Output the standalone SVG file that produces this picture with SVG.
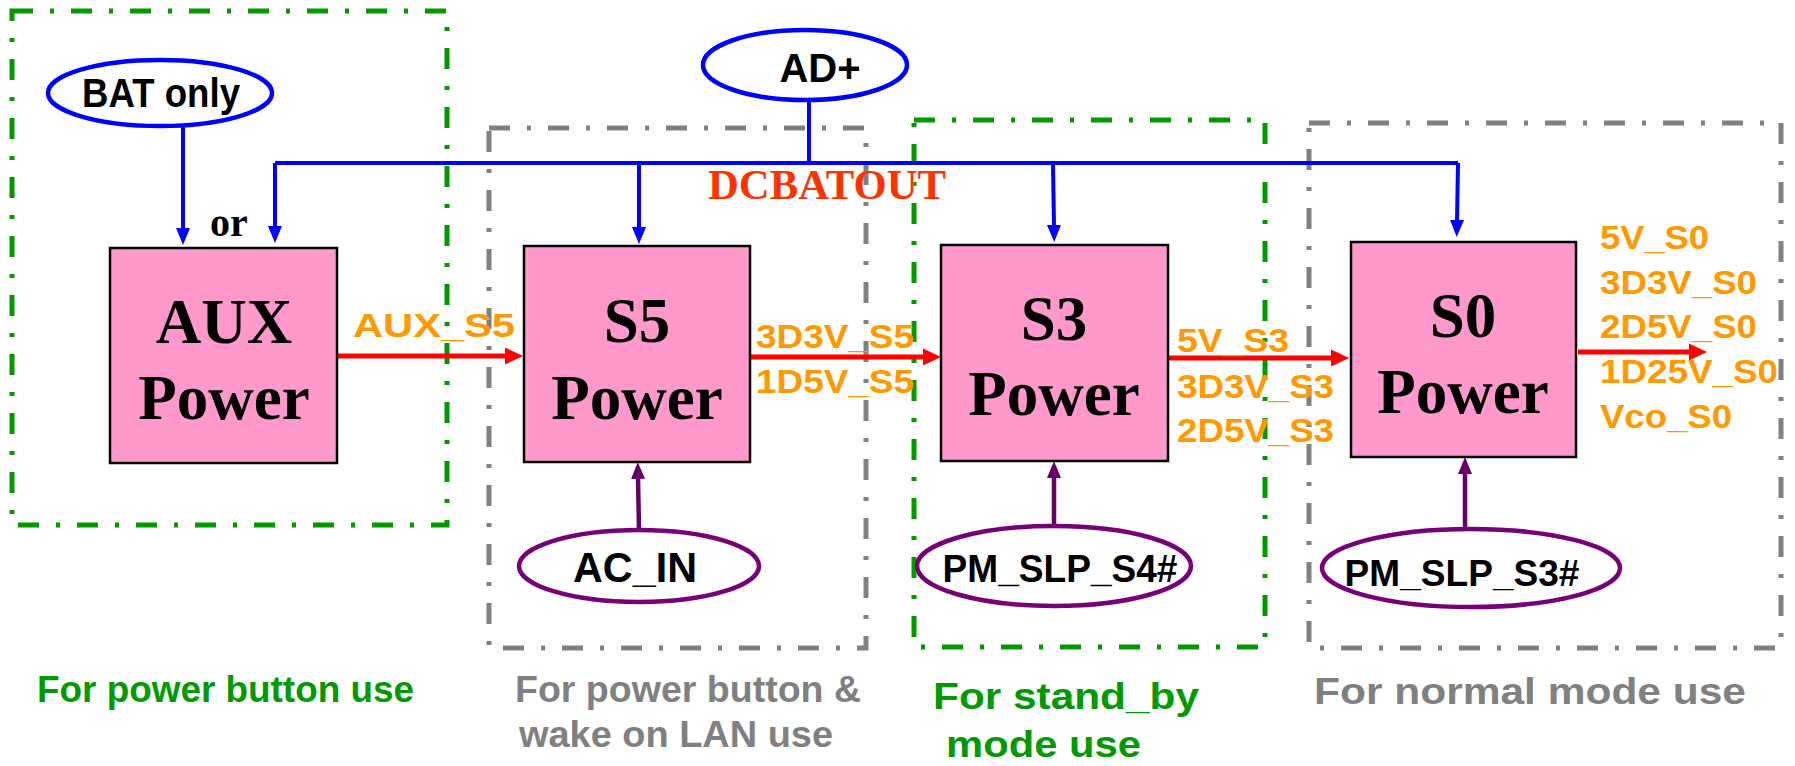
<svg xmlns="http://www.w3.org/2000/svg" width="1795" height="766" viewBox="0 0 1795 766">
<defs>
<style>
.zone{fill:none;stroke-width:5;stroke-dasharray:21 17 4 17}
.zg{stroke:#009900}
.zy{stroke:#808080}
.box{fill:#FF99CC;stroke:#000;stroke-width:2.5}
.big{font-family:"Liberation Serif","Times New Roman",serif;font-weight:bold;font-size:63px;fill:#000;text-anchor:middle}
.ell{fill:#fff;stroke-width:4.5}
.eb{stroke:#0000FF}
.ep{stroke:#770077}
.et{font-family:"Liberation Sans",Arial,sans-serif;font-weight:bold;fill:#000;text-anchor:middle}
.lab{font-family:"Liberation Sans",Arial,sans-serif;font-weight:bold;font-size:34px;fill:#FF9900}
.foot{font-family:"Liberation Sans",Arial,sans-serif;font-weight:bold;font-size:37px}
.blue{fill:none;stroke:#0000FF;stroke-width:4}
.red{fill:none;stroke:#FF0000;stroke-width:5}
.pur{fill:none;stroke:#660066;stroke-width:4.5}
</style>
<marker id="hb" markerUnits="userSpaceOnUse" markerWidth="18" markerHeight="16" refX="2" refY="8" orient="auto"><path d="M0,1 L17,8 L0,15 z" fill="#0000FF"/></marker>
<marker id="hr" markerUnits="userSpaceOnUse" markerWidth="19" markerHeight="19" refX="2" refY="9.5" orient="auto"><path d="M0,1 L18,9.5 L0,18 z" fill="#FF0000"/></marker>
<marker id="hp" markerUnits="userSpaceOnUse" markerWidth="18" markerHeight="16" refX="2" refY="8" orient="auto"><path d="M0,1 L17,8 L0,15 z" fill="#660066"/></marker>
</defs>
<rect width="1795" height="766" fill="#fff"/>

<g id="zones">
<rect class="zone zg" x="12" y="11" width="435" height="514"/>
<rect class="zone zy" x="489" y="128" width="377" height="520"/>
<rect class="zone zg" x="914" y="120" width="351" height="527"/>
<rect class="zone zy" x="1309" y="123" width="472" height="525"/>
</g>

<g id="connectors">
<path class="blue" d="M275,163 H1458"/>
<path class="blue" d="M809,100 V163"/>
<path class="blue" d="M183,126 V230" marker-end="url(#hb)"/>
<path class="blue" d="M275,163 V228" marker-end="url(#hb)"/>
<path class="blue" d="M639,163 V229" marker-end="url(#hb)"/>
<path class="blue" d="M1053,163 L1054,227" marker-end="url(#hb)"/>
<path class="blue" d="M1458,163 L1457,222" marker-end="url(#hb)"/>
<path class="red" d="M337,356 H507" marker-end="url(#hr)"/>
<path class="red" d="M750,357 H925" marker-end="url(#hr)"/>
<path class="red" d="M1168,358 H1333" marker-end="url(#hr)"/>
<path class="red" d="M1578,352 H1691" marker-end="url(#hr)"/>
<path class="pur" d="M639,531 L638,477" marker-end="url(#hp)"/>
<path class="pur" d="M1054,527 V476" marker-end="url(#hp)"/>
<path class="pur" d="M1465,530 V472" marker-end="url(#hp)"/>
</g>

<g id="bat">
<ellipse class="ell eb" cx="160" cy="93" rx="112" ry="33"/>
<text class="et" x="161" y="107" font-size="40" textLength="158" lengthAdjust="spacingAndGlyphs">BAT only</text>
</g>
<text x="229" y="236" font-family="Liberation Serif, serif" font-weight="bold" font-size="40" text-anchor="middle">or</text>

<g id="adp">
<ellipse class="ell eb" cx="805" cy="65" rx="102" ry="35"/>
<text class="et" x="820" y="82" font-size="40">AD+</text>
</g>
<text x="827" y="199" font-family="Liberation Serif, serif" font-weight="bold" font-size="42" fill="#FF3300" text-anchor="middle" textLength="238" lengthAdjust="spacingAndGlyphs">DCBATOUT</text>

<g id="aux">
<rect class="box" x="110" y="248" width="227" height="215"/>
<text class="big" x="224" y="343">AUX</text>
<text class="big" x="224" y="419">Power</text>
</g>
<g id="s5">
<rect class="box" x="524" y="246" width="226" height="216"/>
<text class="big" x="637" y="342">S5</text>
<text class="big" x="637" y="419">Power</text>
</g>
<g id="s3">
<rect class="box" x="941" y="245" width="227" height="216"/>
<text class="big" x="1054" y="340">S3</text>
<text class="big" x="1054" y="415">Power</text>
</g>
<g id="s0">
<rect class="box" x="1351" y="242" width="225" height="215"/>
<text class="big" x="1463" y="337">S0</text>
<text class="big" x="1463" y="413">Power</text>
</g>

<g id="acin">
<ellipse class="ell ep" cx="639" cy="566" rx="120" ry="36"/>
<text class="et" x="635" y="582" font-size="42" textLength="124" lengthAdjust="spacingAndGlyphs">AC_IN</text>
</g>
<g id="slp4">
<ellipse class="ell ep" cx="1054" cy="566" rx="137" ry="40"/>
<text class="et" x="1060" y="582" font-size="38" textLength="235" lengthAdjust="spacingAndGlyphs">PM_SLP_S4#</text>
</g>
<g id="slp3">
<ellipse class="ell ep" cx="1471" cy="568" rx="149" ry="39"/>
<text class="et" x="1462" y="586" font-size="37" textLength="235" lengthAdjust="spacingAndGlyphs">PM_SLP_S3#</text>
</g>

<g id="labels">
<text class="lab" x="353" y="337" font-size="42" textLength="162" lengthAdjust="spacingAndGlyphs">AUX_S5</text>
<text class="lab" x="756" y="348" textLength="158" lengthAdjust="spacingAndGlyphs">3D3V_S5</text>
<text class="lab" x="756" y="393" textLength="158" lengthAdjust="spacingAndGlyphs">1D5V_S5</text>
<text class="lab" x="1177" y="352" textLength="112" lengthAdjust="spacingAndGlyphs">5V_S3</text>
<text class="lab" x="1177" y="398" textLength="157" lengthAdjust="spacingAndGlyphs">3D3V_S3</text>
<text class="lab" x="1177" y="442" textLength="157" lengthAdjust="spacingAndGlyphs">2D5V_S3</text>
<text class="lab" x="1600" y="249" textLength="109" lengthAdjust="spacingAndGlyphs">5V_S0</text>
<text class="lab" x="1600" y="294" textLength="157" lengthAdjust="spacingAndGlyphs">3D3V_S0</text>
<text class="lab" x="1600" y="338" textLength="157" lengthAdjust="spacingAndGlyphs">2D5V_S0</text>
<text class="lab" x="1600" y="383" textLength="178" lengthAdjust="spacingAndGlyphs">1D25V_S0</text>
<text class="lab" x="1600" y="428" textLength="132" lengthAdjust="spacingAndGlyphs">Vco_S0</text>
</g>

<g id="footers">
<text class="foot" x="37" y="702" fill="#009900" textLength="377" lengthAdjust="spacingAndGlyphs">For power button use</text>
<text class="foot" x="515" y="702" fill="#808080" textLength="346" lengthAdjust="spacingAndGlyphs">For power button &amp;</text>
<text class="foot" x="519" y="747" fill="#808080" textLength="314" lengthAdjust="spacingAndGlyphs">wake on LAN use</text>
<text class="foot" x="933" y="709" fill="#009900" textLength="266" lengthAdjust="spacingAndGlyphs">For stand_by</text>
<text class="foot" x="946" y="757" fill="#009900" textLength="195" lengthAdjust="spacingAndGlyphs">mode use</text>
<text class="foot" x="1314" y="704" fill="#808080" textLength="432" lengthAdjust="spacingAndGlyphs">For normal mode use</text>
</g>
</svg>
